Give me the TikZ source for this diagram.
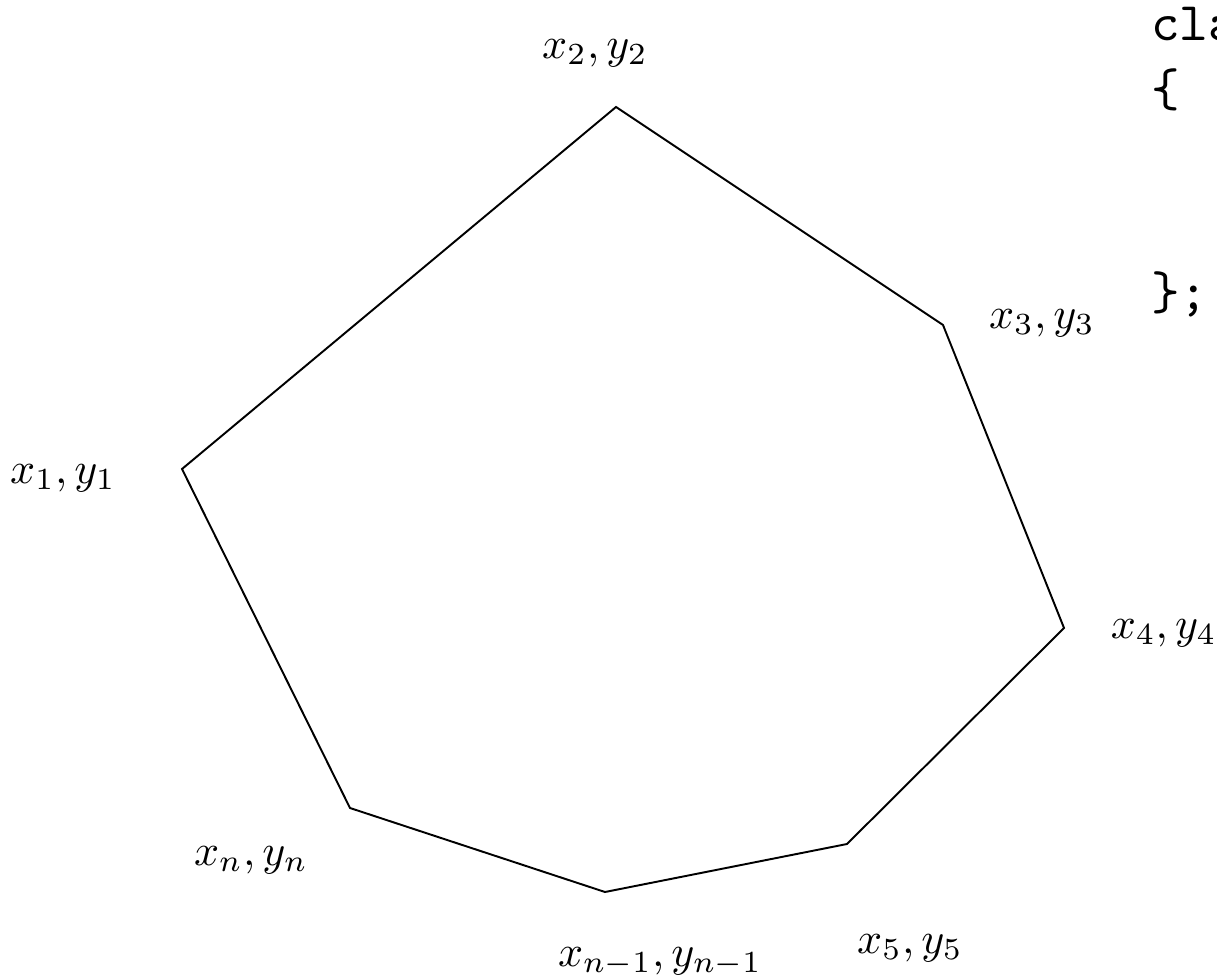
\documentclass[tikz,border=0pt]{standalone}

\tikzset{lab/.style={scale=2.5},code/.style={scale=3.1,anchor=base west,font=\ttfamily}}

\begin{document}
\begin{tikzpicture}[x=.02cm,y=-.02cm]
    \useasboundingbox (0,0) rectangle (1217,980);
    % Ecken des Polygons
    \coordinate (p1) at (182,469);
    \coordinate (p2) at (616,107);
    \coordinate (p3) at (943,325);
    \coordinate (p4) at (1064,628);
    \coordinate (p5) at (847,844);
    \coordinate (pm) at (605,892);
    \coordinate (pn) at (350,808);
    \draw[line width=1.1pt,line join=miter] (p1)--(p2)--(p3)--(p4)--(p5)--(pm)--(pn)--cycle;
    \node[lab] (l1) at (63,478) {\(x_1,y_1\)};
    \node[lab] (l2) at (595,53) {\(x_2,y_2\)};
    \node[lab] (l3) at (1042,323) {\(x_3,y_3\)};
    \node[lab,anchor=east] (l4) at (1232,633) {\(x_4,y_4\)};
    \node[lab] (l5) at (910,948) {\(x_5,y_5\)};
    \node[lab] (lm) at (660,962) {\(x_{n-1},y_{n-1}\)};
    \node[lab] (ln) at (251,860) {\(x_n,y_n\)};
    % Quelltext rechts
    \node[code] (c1) at (1132,41) {cla};
    \node[code] (c2) at (1132,107) {\{};
    \node[code] (c3) at (1132,309) {\};};
\end{tikzpicture}
\end{document}
